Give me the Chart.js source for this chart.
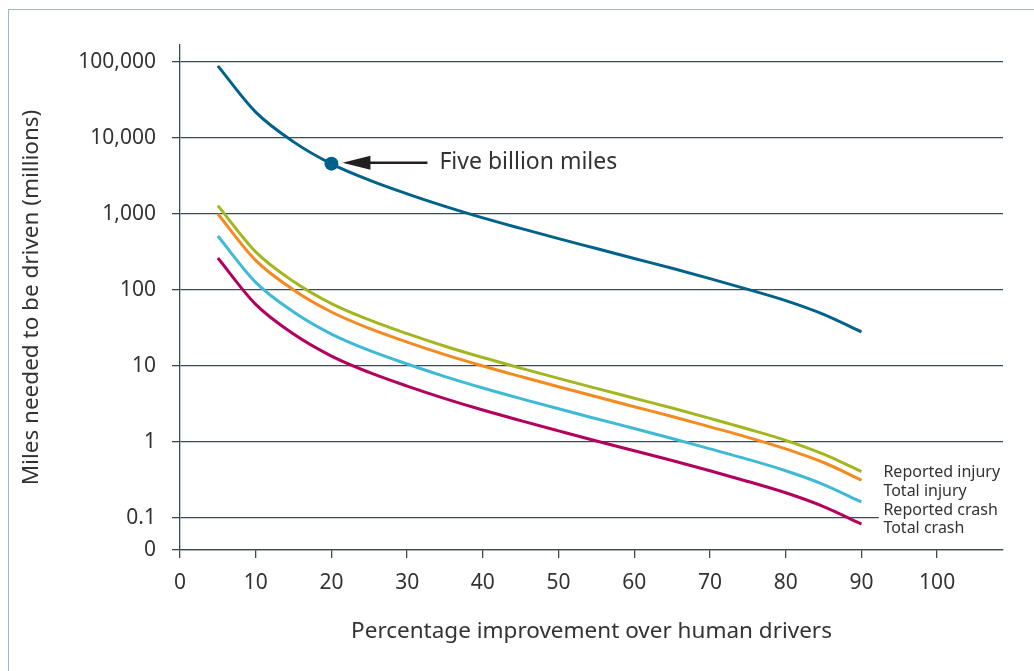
<!DOCTYPE html>
<html>
<head>
<meta charset="utf-8">
<script src="https://cdn.jsdelivr.net/npm/chart.js@4"></script>
<style>
  html, body { margin: 0; padding: 0; background: #fff; }
  .frame { position: absolute; left: 8px; top: 9px; width: 1100px; height: 720px; border: 1px solid #a3b6c3; }
  .wrap { position: absolute; left: 0; top: 0; width: 1034px; height: 671px; }
</style>
</head>
<body>
<div class="frame"></div>
<div class="wrap"><canvas id="chart" width="1034" height="671"></canvas></div>
<script>
// percentage improvement over human drivers
const improvement = [5, 10, 15, 20, 25, 30, 35, 40, 45, 50, 55, 60, 65, 70, 75, 80, 85, 90]

// miles needed to be driven (millions)
const fatality = [89000, 21900, 8900, 4570, 2790, 1840, 1260, 890, 647, 474, 351, 260, 193, 141, 102, 72.5, 47.8, 28.1]
const reportedInjury = [1290, 317, 129, 66, 40.3, 26.6, 18.2, 12.9, 9.36, 6.86, 5.07, 3.76, 2.79, 2.04, 1.48, 1.05, 0.69, 0.407]
const totalInjury = [1000, 245, 100, 51.3, 31.2, 20.6, 14.1, 10, 7.26, 5.32, 3.93, 2.91, 2.16, 1.58, 1.15, 0.81, 0.536, 0.315]
const reportedCrash = [513, 126, 51.3, 26.3, 16, 10.6, 7.25, 5.13, 3.72, 2.73, 2.02, 1.5, 1.11, 0.81, 0.59, 0.417, 0.275, 0.162]
const totalCrash = [263, 64.6, 26.3, 13.5, 8.22, 5.43, 3.72, 2.63, 1.91, 1.4, 1.03, 0.767, 0.569, 0.417, 0.302, 0.214, 0.141, 0.083]

const xTicks = [0, 10, 20, 30, 40, 50, 60, 70, 80, 90, 100]
const yTicks = [0.1, 1, 10, 100, 1000, 10000, 100000]
const milestone = [{ x: 20, y: 4600 }]
const milestoneLabel = 'Five billion miles'

const yMin = 0.0378
const font = 'Noto Sans'
const textColor = '#333333'
const axisColor = '#3d4b55'

const series = (values) => improvement.map((x, i) => ({ x, y: values[i] }))

const lineDataset = (label, values, color, named) => ({
  label,
  data: series(values),
  borderColor: color,
  backgroundColor: color,
  borderWidth: 3,
  pointRadius: 0,
  cubicInterpolationMode: 'monotone',
  named
})

// short 0.1 gridline: leave room for the series labels
const trimGrid = {
  id: 'trimGrid',
  beforeDatasetsDraw (chart) {
    const { ctx, scales } = chart
    const y = scales.y.getPixelForValue(0.1)
    const x0 = scales.x.getPixelForValue(92.3)
    ctx.save()
    ctx.fillStyle = '#ffffff'
    ctx.fillRect(x0, y - 2, chart.chartArea.right - x0 + 2, 4)
    ctx.restore()
  }
}

const seriesLabels = {
  id: 'seriesLabels',
  afterDatasetsDraw (chart) {
    const { ctx } = chart
    const named = chart.data.datasets
      .map((ds, i) => ({ ds, meta: chart.getDatasetMeta(i) }))
      .filter(d => d.ds.named)
    if (!named.length) { return }
    const first = named[0].meta.data[named[0].meta.data.length - 1]
    ctx.save()
    ctx.font = `16px "${font}"`
    ctx.fillStyle = textColor
    ctx.textBaseline = 'middle'
    named.forEach((d, i) => {
      ctx.fillText(d.ds.label, first.x + 22, first.y + 1 + i * 18.7)
    })
    ctx.restore()
  }
}

const callout = {
  id: 'callout',
  afterDatasetsDraw (chart) {
    const { ctx } = chart
    const meta = chart.getDatasetMeta(chart.data.datasets.length - 1)
    const dot = meta.data[0]
    const y = dot.y - 1
    ctx.save()
    ctx.fillStyle = '#231f20'
    ctx.strokeStyle = '#231f20'
    ctx.lineWidth = 2.5
    ctx.beginPath()
    ctx.moveTo(dot.x + 36, y)
    ctx.lineTo(dot.x + 96, y)
    ctx.stroke()
    ctx.beginPath()
    ctx.moveTo(dot.x + 11, y)
    ctx.lineTo(dot.x + 39, y - 7)
    ctx.lineTo(dot.x + 39, y + 7)
    ctx.closePath()
    ctx.fill()
    ctx.font = `23px "${font}"`
    ctx.fillStyle = textColor
    ctx.textBaseline = 'middle'
    ctx.fillText(milestoneLabel, dot.x + 108, y)
    ctx.restore()
  }
}

const ctx = document.getElementById('chart').getContext('2d')

/* eslint-disable no-new */
new Chart(ctx, {
  type: 'line',
  data: {
    datasets: [
      lineDataset('Fatality', fatality, '#00628b', false),
      lineDataset('Reported injury', reportedInjury, '#a4b61f', true),
      lineDataset('Total injury', totalInjury, '#f58a1f', true),
      lineDataset('Reported crash', reportedCrash, '#3fbad6', true),
      lineDataset('Total crash', totalCrash, '#b3005e', true),
      {
        label: milestoneLabel,
        data: milestone,
        showLine: false,
        pointRadius: 7,
        pointBorderWidth: 0,
        backgroundColor: '#00628b',
        borderColor: '#00628b'
      }
    ]
  },
  options: {
    responsive: false,
    animation: false,
    layout: { padding: { top: 45, right: 31, left: 0, bottom: 0 } },
    plugins: {
      legend: { display: false },
      tooltip: { enabled: false }
    },
    scales: {
      x: {
        type: 'linear',
        min: 0,
        max: 108.7,
        afterBuildTicks: (scale) => { scale.ticks = xTicks.map(value => ({ value })) },
        afterFit: (scale) => { scale.height = 121 },
        grid: { drawOnChartArea: false, color: axisColor, lineWidth: 1.3, tickLength: 8 },
        border: { color: axisColor, width: 1.3 },
        ticks: {
          color: textColor,
          font: { family: font, size: 21 },
          padding: 12,
          maxRotation: 0,
          autoSkip: false,
          callback: (value) => value
        },
        title: {
          display: true,
          text: 'Percentage improvement over human drivers',
          color: textColor,
          font: { family: font, size: 22.5 },
          padding: { bottom: 26 }
        }
      },
      y: {
        type: 'logarithmic',
        min: yMin,
        max: 167700,
        afterBuildTicks: (scale) => { scale.ticks = [yMin, ...yTicks].map(value => ({ value })) },
        afterFit: (scale) => { scale.width = 180 },
        grid: { color: axisColor, lineWidth: 1.3, tickLength: 8 },
        border: { color: axisColor, width: 1.3 },
        ticks: {
          color: textColor,
          font: { family: font, size: 21 },
          padding: 16,
          autoSkip: false,
          callback: (value) => value === yMin ? '0' : value.toLocaleString('en-US')
        },
        title: {
          display: true,
          text: 'Miles needed to be driven (millions)',
          color: textColor,
          font: { family: font, size: 22.5 },
          padding: { top: 18 }
        }
      }
    }
  },
  plugins: [trimGrid, seriesLabels, callout]
})
</script>
</body>
</html>
